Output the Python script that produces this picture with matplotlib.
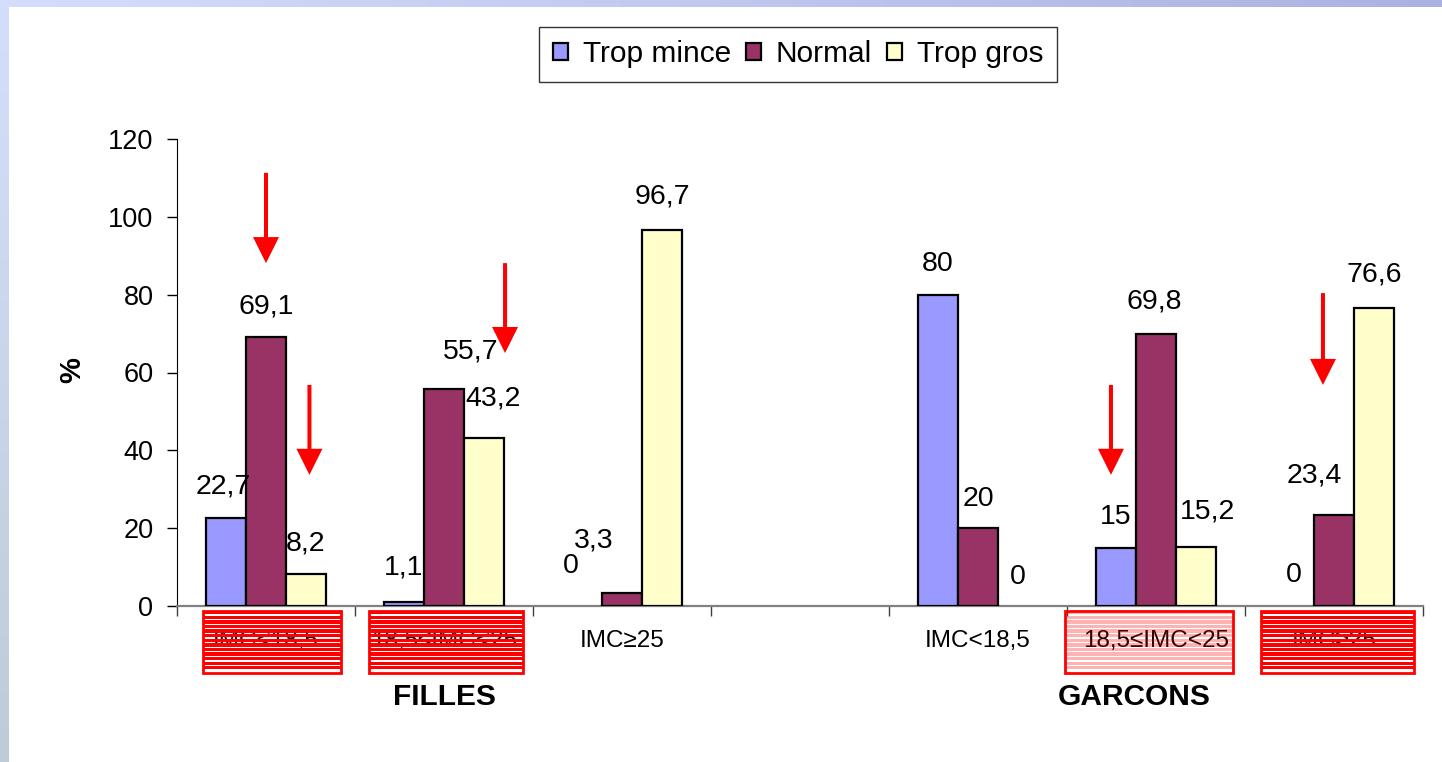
import numpy as np
import matplotlib.pyplot as plt
from matplotlib.patches import Rectangle

plt.rcParams['font.family'] = ['Liberation Sans', 'DejaVu Sans']

# data
categories = ['IMC<18,5', '18,5≤IMC<25', 'IMC≥25', '', 'IMC<18,5', '18,5≤IMC<25', 'IMC≥25']
trop_mince = [22.7, 1.1, 0, np.nan, 80, 15, 0]
normal = [69.1, 55.7, 3.3, np.nan, 20, 69.8, 23.4]
trop_gros = [8.2, 43.2, 96.7, np.nan, 0, 15.2, 76.6]
series_names = ['Trop mince', 'Normal', 'Trop gros']
groups = ['FILLES', 'GARCONS']

colors = ['#9999FF', '#993366', '#FFFFCC']

W, H = 1442, 762
fig = plt.figure(figsize=(W / 100, H / 100), dpi=100)

# slide background bands
bg = fig.add_axes([0, 0, 1, 1])
bg.set_axis_off()
t = np.linspace(0, 1, 256)
c0 = np.array([212, 222, 252]) / 255
c1 = np.array([170, 178, 226]) / 255
c2 = np.array([190, 204, 216]) / 255
top_band = (c0[None, :] * (1 - t[:, None]) + c1[None, :] * t[:, None])[None, :, :]
left_band = (c0[None, :] * (1 - t[:, None]) + c2[None, :] * t[:, None])[:, None, :]
bg.imshow(top_band, extent=(0, W, 7, 0), aspect='auto')
bg.imshow(left_band, extent=(0, 9, H, 7), aspect='auto')
bg.set_xlim(0, W)
bg.set_ylim(H, 0)

ax = fig.add_axes([177 / W, 156 / H, 1246 / W, 467 / H])
x = np.arange(len(categories))
w = 0.2247
series = [trop_mince, normal, trop_gros]
bars = []
for j, vals in enumerate(series):
    b = ax.bar(x + (j - 1) * w, vals, w, color=colors[j], edgecolor='black',
               linewidth=1.6, label=series_names[j], zorder=3)
    for p in b.patches:
        if p.get_height() == 0:
            p.set_linewidth(0)
    bars.append(b)

ax.set_xlim(-0.5, 6.5)
ax.set_ylim(0, 120)
ax.set_yticks(range(0, 121, 20))
ax.tick_params(axis='y', direction='out', length=7, width=1, labelsize=19.5, pad=10)
ax.set_xticks(x)
ax.set_xticklabels(categories)
ax.set_xticks(np.arange(-0.5, 7, 1), minor=True)
ax.tick_params(axis='x', which='major', length=0, labelsize=17.5, pad=17)
ax.tick_params(axis='x', which='minor', direction='out', length=7, width=1, color='#404040')
for s in ['top', 'right']:
    ax.spines[s].set_visible(False)
ax.spines['left'].set_color('black')
ax.spines['bottom'].set_color('#808080')
ax.spines['bottom'].set_linewidth(1.6)

# value labels (px nudges for the few that were moved by hand)
nudge = {(0, 0): (-3, 0), (0, 1): (0, 3), (1, 1): (27, 7), (2, 1): (9, 8),
         (0, 2): (-11, 9), (1, 2): (-28, 22), (2, 2): (0, 2),
         (1, 4): (0, -2), (2, 4): (0, -2), (1, 5): (-2, 2), (2, 5): (12, 4),
         (1, 6): (-20, 8), (2, 6): (0, 2)}
for j, vals in enumerate(series):
    for i, v in enumerate(vals):
        if np.isnan(v):
            continue
        dx, dy = nudge.get((j, i), (0, 0))
        ax.annotate(f'{v:g}'.replace('.', ','), xy=(i + (j - 1) * w, v),
                    xytext=(dx, 24 + dy), textcoords='offset pixels',
                    ha='center', va='baseline', fontsize=20.5, zorder=6)

# red hatched boxes over some category labels
boxes = [(-0.354, 0.421, 1.0), (0.579, 1.444, 1.0), (4.489, 5.433, 0.3), (5.590, 6.449, 1.0)]
ytop, ybot = -1.3, -17.2
period, red_h = 1.18, 0.85
for x0, x1, a in boxes:
    yy = ytop
    while yy - red_h > ybot:
        ax.add_patch(Rectangle((x0, yy - red_h), x1 - x0, red_h, facecolor='red',
                               alpha=a, linewidth=0, clip_on=False, zorder=5))
        yy -= period
    ax.add_patch(Rectangle((x0, ybot), x1 - x0, ytop - ybot, fill=False,
                           edgecolor='red', linewidth=2, clip_on=False, zorder=5))

# red arrows
arrows = [(0.0, 111.3, 88.1), (0.244, 56.8, 33.7), (1.343, 88.1, 65.0),
          (4.747, 56.8, 33.7), (5.938, 80.4, 56.8)]
for ax_x, y0, y1 in arrows:
    ax.arrow(ax_x, y0, 0, y1 - y0, width=0.0225, head_width=0.146, head_length=6.7,
             length_includes_head=True, color='red', linewidth=0, zorder=7)

# group names
ax.text(1.0, -23.4, groups[0], ha='center', va='center', fontsize=21.5,
        fontweight='bold', clip_on=False)
ax.text(4.875, -23.4, groups[1], ha='center', va='center', fontsize=21.5,
        fontweight='bold', clip_on=False)

fig.text(72 / W, 1 - 370 / H, '%', rotation=90, ha='center', va='center',
         fontsize=21, fontweight='bold')

leg = fig.legend(handles=bars, labels=series_names, loc='center',
                 bbox_to_anchor=(798 / W, 1 - 54.5 / H), ncol=3, fontsize=21.5,
                 frameon=True, fancybox=False, edgecolor='black',
                 handlelength=0.5, handleheight=0.5, handletextpad=0.5,
                 columnspacing=0.5, borderpad=0.45)
leg.get_frame().set_linewidth(1)

fig.savefig('out.png', dpi=100)
